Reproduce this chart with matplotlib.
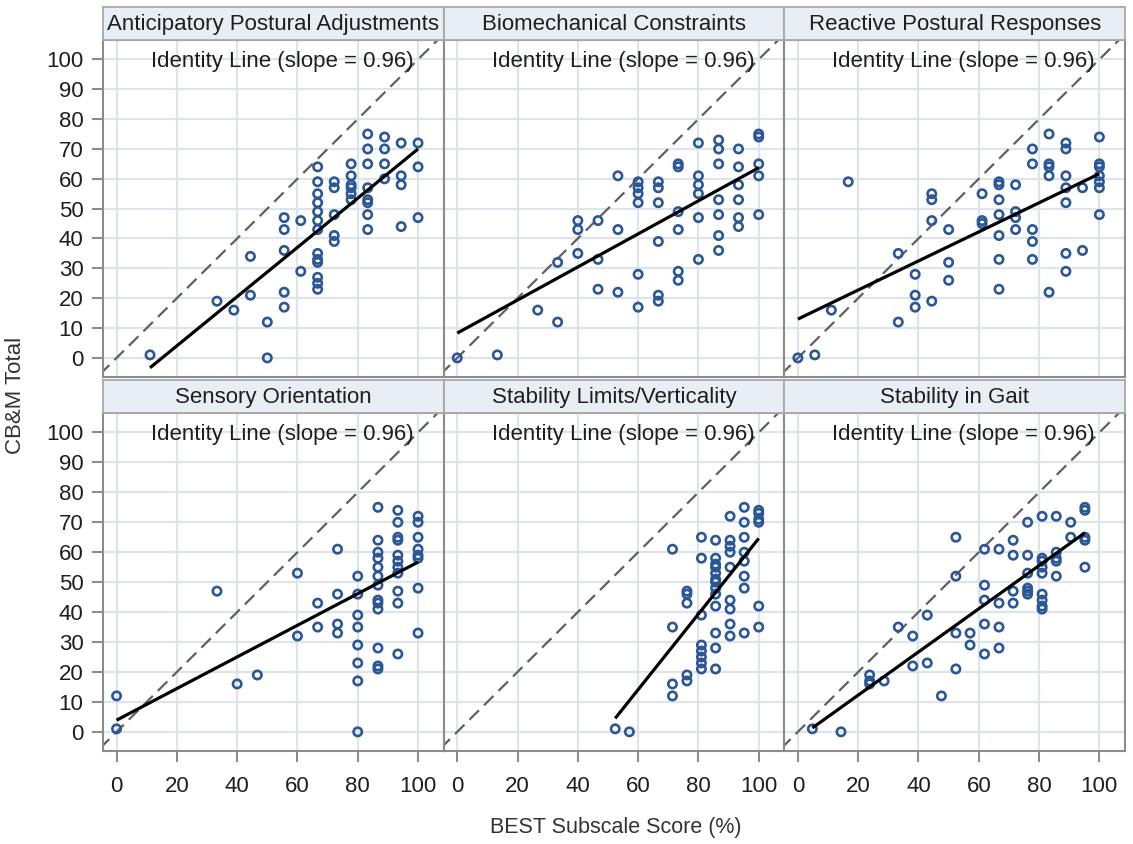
import matplotlib
matplotlib.use("Agg")
import matplotlib.pyplot as plt

plt.rcParams['font.family'] = ['Liberation Sans', 'DejaVu Sans']

titles = ["Anticipatory Postural Adjustments", "Biomechanical Constraints",
          "Reactive Postural Responses", "Sensory Orientation",
          "Stability Limits/Verticality", "Stability in Gait"]

p1_x = [11.1, 33.3, 38.9, 44.4, 44.4, 50.0, 50.0,
        55.6, 55.6, 55.6, 55.6, 55.6, 61.1, 61.1,
        66.7, 66.7, 66.7, 66.7, 66.7, 66.7, 66.7, 66.7, 66.7, 66.7, 66.7, 66.7, 66.7,
        72.2, 72.2, 72.2, 72.2, 72.2,
        77.8, 77.8, 77.8, 77.8, 77.8, 77.8,
        83.3, 83.3, 83.3, 83.3, 83.3, 83.3, 83.3, 83.3,
        88.9, 88.9, 88.9, 88.9,
        94.4, 94.4, 94.4, 94.4,
        100, 100, 100]
p1_y = [1, 19, 16, 34, 21, 12, 0,
        47, 43, 36, 22, 17, 46, 29,
        64, 59, 55, 52, 49, 46, 43, 35, 33, 32, 27, 25, 23,
        59, 57, 48, 41, 39,
        65, 61, 58, 57, 55, 53,
        75, 70, 65, 57, 53, 52, 48, 43,
        74, 70, 65, 60,
        72, 61, 58, 44,
        72, 64, 47]

p2_x = [0, 13.3, 26.7, 33.3, 33.3, 40, 40, 40, 46.7, 46.7, 46.7, 53.3, 53.3, 53.3,
        60, 60, 60, 60, 60, 60, 66.7, 66.7, 66.7, 66.7, 66.7, 66.7,
        73.3, 73.3, 73.3, 73.3, 73.3, 73.3, 80, 80, 80, 80, 80, 80,
        86.7, 86.7, 86.7, 86.7, 86.7, 86.7, 86.7,
        93.3, 93.3, 93.3, 93.3, 93.3, 93.3, 100, 100, 100, 100, 100]
p2_y = [0, 1, 16, 12, 32, 46, 43, 35, 46, 33, 23, 61, 43, 22,
        59, 57, 55, 52, 28, 17, 59, 57, 52, 39, 21, 19,
        65, 64, 49, 43, 29, 26, 72, 61, 58, 55, 47, 33,
        73, 70, 65, 53, 48, 41, 36,
        70, 64, 58, 53, 47, 44, 75, 74, 65, 61, 48]

p3_x = [0, 5.6, 11.1, 16.7, 33.3, 33.3, 38.9, 38.9, 38.9, 44.4, 44.4, 44.4, 44.4,
        50, 50, 50, 61.1, 61.1, 61.1, 66.7, 66.7, 66.7, 66.7, 66.7, 66.7, 66.7,
        72.2, 72.2, 72.2, 72.2, 77.8, 77.8, 77.8, 77.8, 77.8,
        83.3, 83.3, 83.3, 83.3, 83.3, 88.9, 88.9, 88.9, 88.9, 88.9, 88.9, 88.9,
        94.4, 94.4, 100, 100, 100, 100, 100, 100, 100]
p3_y = [0, 1, 16, 59, 35, 12, 28, 21, 17, 55, 53, 46, 19,
        43, 32, 26, 55, 46, 45, 59, 58, 53, 48, 41, 33, 23,
        58, 49, 47, 43, 70, 65, 43, 39, 33,
        75, 65, 64, 61, 22, 72, 70, 61, 57, 52, 35, 29,
        57, 36, 74, 65, 64, 61, 59, 57, 48]

p4_x = [0, 0, 33.3, 40, 46.7, 60, 60, 66.7, 66.7, 73.3, 73.3, 73.3, 73.3,
        80, 80, 80, 80, 80, 80, 80, 80,
        86.7, 86.7, 86.7, 86.7, 86.7, 86.7, 86.7, 86.7, 86.7, 86.7, 86.7, 86.7, 86.7,
        93.3, 93.3, 93.3, 93.3, 93.3, 93.3, 93.3, 93.3, 93.3, 93.3, 93.3,
        100, 100, 100, 100, 100, 100, 100, 100]
p4_y = [12, 1, 47, 16, 19, 53, 32, 43, 35, 61, 46, 36, 33,
        52, 46, 39, 35, 29, 23, 17, 0,
        75, 64, 60, 58, 55, 52, 49, 44, 43, 41, 28, 22, 21,
        74, 70, 65, 64, 59, 57, 55, 53, 47, 43, 26,
        72, 70, 65, 61, 59, 58, 48, 33]

p5_x = [52.4, 57.1, 71.4, 71.4, 71.4, 71.4, 76.2, 76.2, 76.2, 76.2, 76.2,
        81, 81, 81, 81, 81, 81, 81, 81,
        85.7, 85.7, 85.7, 85.7, 85.7, 85.7, 85.7, 85.7, 85.7, 85.7, 85.7, 85.7, 85.7,
        90.5, 90.5, 90.5, 90.5, 90.5, 90.5, 90.5, 90.5, 90.5,
        95.2, 95.2, 95.2, 95.2, 95.2, 95.2, 95.2, 95.2,
        100, 100, 100, 100, 100, 100]
p5_y = [1, 0, 61, 35, 16, 12, 47, 46, 43, 19, 17,
        65, 58, 39, 29, 27, 25, 23, 21,
        64, 58, 56, 55, 53, 51, 50, 48, 46, 42, 33, 28, 21,
        72, 64, 62, 60, 55, 44, 41, 36, 32,
        75, 70, 65, 60, 57, 52, 48, 33,
        74, 73, 71, 70, 42, 35]

p6_x = [4.8, 14.3, 23.8, 23.8, 23.8, 28.6, 33.3, 38.1, 38.1, 42.9, 42.9, 47.6,
        52.4, 52.4, 52.4, 52.4, 57.1, 57.1, 61.9, 61.9, 61.9, 61.9, 61.9,
        66.7, 66.7, 66.7, 66.7, 71.4, 71.4, 71.4, 71.4,
        76.2, 76.2, 76.2, 76.2, 76.2, 76.2,
        81, 81, 81, 81, 81, 81, 81, 81, 81,
        85.7, 85.7, 85.7, 85.7, 85.7, 90.5, 90.5,
        95.2, 95.2, 95.2, 95.2, 95.2]
p6_y = [1, 0, 19, 17, 16, 17, 35, 32, 22, 39, 23, 12,
        65, 52, 33, 21, 33, 29, 61, 49, 44, 36, 26,
        61, 43, 35, 28, 64, 59, 47, 43,
        70, 59, 53, 48, 47, 46,
        72, 58, 57, 55, 53, 46, 44, 42, 41,
        72, 60, 58, 57, 52, 70, 65,
        75, 74, 65, 64, 55]

# fitted regression line end points: (x0, y0, x1, y1)
fit_x0 = [11.1, 0, 0, 0, 52.4, 4.8]
fit_y0 = [-3.3, 8.3, 13.0, 3.9, 4.5, 1.3]
fit_x1 = [100, 100, 100, 100, 100, 95.2]
fit_y1 = [70.0, 63.7, 61.7, 56.7, 64.6, 66.5]

xs = [p1_x, p2_x, p3_x, p4_x, p5_x, p6_x]
ys = [p1_y, p2_y, p3_y, p4_y, p5_y, p6_y]

x_ticks = [0, 20, 40, 60, 80, 100]
y_ticks = [0, 10, 20, 30, 40, 50, 60, 70, 80, 90, 100]
note = "Identity Line (slope = 0.96)"

W, H = 1133, 844
fig = plt.figure(figsize=(W / 100, H / 100), dpi=100)

left_px = 103
col_w = (1125 - 103) / 3.0
rows = [(40, 377), (413, 751)]
header_h = 33

edge_col = '#8c8c8c'
grid_col = '#dfe4ea'
marker_col = '#2b5797'
text_col = '#1e1e1e'

for i in range(6):
    r, c = divmod(i, 3)
    top, bot = rows[r]
    x0 = left_px + c * col_w
    ax = fig.add_axes([x0 / W, 1 - bot / H, col_w / W, (bot - top) / H])
    ax.set_xlim(-4.5, 108.5)
    ax.set_ylim(-6.4, 106.5)
    ax.set_xticks(x_ticks)
    ax.set_yticks(y_ticks)
    ax.grid(True, color=grid_col, linewidth=1.6, zorder=0)
    ax.set_axisbelow(True)
    for s in ax.spines.values():
        s.set_color(edge_col)
        s.set_linewidth(1.5)
    ax.tick_params(axis='both', color=edge_col, width=1.5, length=8,
                   labelsize=16, labelcolor=text_col)
    ax.tick_params(axis='x', pad=10)
    ax.tick_params(axis='y', pad=6)
    if r == 0:
        ax.tick_params(axis='x', labelbottom=False, length=0)
    if c != 0:
        ax.tick_params(axis='y', labelleft=False, length=0)

    ax.plot([-20, 130], [-20, 130], color='#606060', linewidth=1.6,
            dashes=(6, 3.2), zorder=2)
    ax.scatter(xs[i], ys[i], s=36, facecolors='none', edgecolors=marker_col,
               linewidths=1.9, zorder=3)
    ax.plot([fit_x0[i], fit_x1[i]], [fit_y0[i], fit_y1[i]], color='black',
            linewidth=2.3, zorder=4, solid_capstyle='butt')
    ax.text(98.5, 99.3, note, ha='right', va='center', fontsize=16,
            color=text_col, zorder=5)

    hax = fig.add_axes([x0 / W, 1 - top / H, col_w / W, header_h / H])
    hax.set_xticks([])
    hax.set_yticks([])
    hax.set_facecolor('#e9eef4')
    for s in hax.spines.values():
        s.set_color('#a8a8a8')
        s.set_linewidth(1.3)
    hax.text(0.5, 0.47, titles[i], ha='center', va='center', fontsize=16,
             color=text_col, transform=hax.transAxes)

fig.text(16 / W, 1 - 395 / H, "CB&M Total", rotation=90, ha='center',
         va='center', fontsize=16, color='#333333')
fig.text(616 / W, 1 - 828 / H, "BEST Subscale Score (%)", ha='center',
         va='center', fontsize=15.5, color='#333333')

fig.savefig("out.png", dpi=100, facecolor='white')
